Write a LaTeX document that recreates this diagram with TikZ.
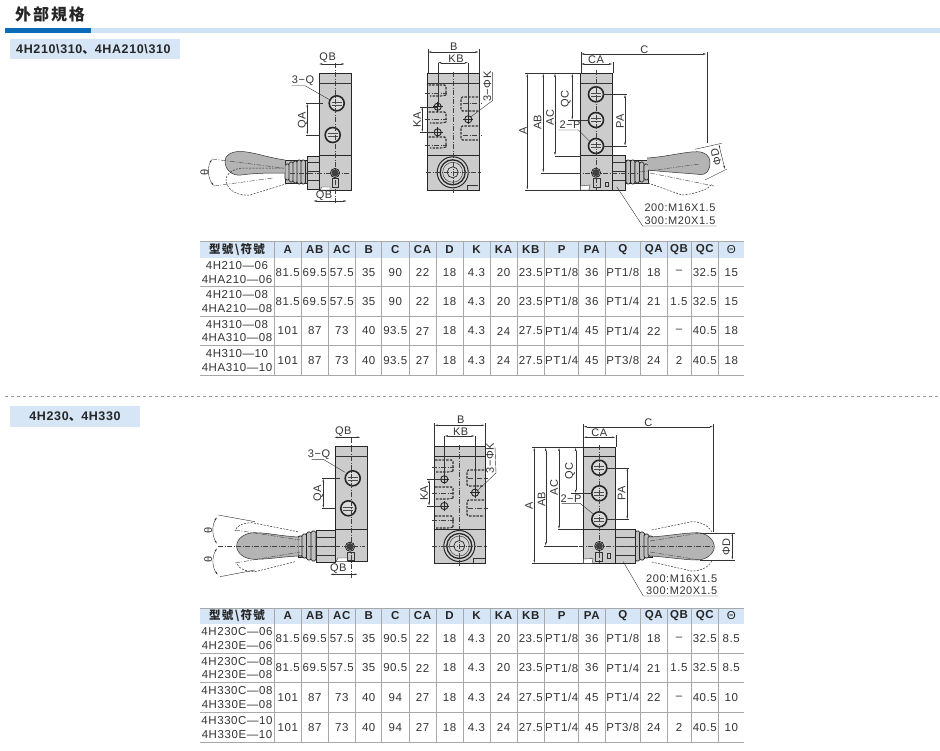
\documentclass[tikz,border=0pt]{standalone}
\usepackage{fontspec}
\setmainfont{Liberation Sans}
\newfontfamily\cjk[LetterSpace=12]{Noto Sans CJK TC}
\newfontfamily\cjkmark{Noto Sans CJK JP}
\newfontfamily\specfont[LetterSpace=5]{Liberation Sans}
\usetikzlibrary{arrows,arrows.meta}
\definecolor{barblue}{HTML}{0A6CB8}
\definecolor{paleblue}{HTML}{CFE3F5}
\definecolor{headblue}{HTML}{D6E6F6}
\definecolor{ruleg}{HTML}{A8A8A8}
\definecolor{bodyg}{HTML}{CCCCCC}
\definecolor{knobg}{HTML}{B4B4B4}
\definecolor{inkg}{HTML}{333333}
\tikzset{
  lbl/.style={font=\specfont\fontsize{11}{13}\selectfont,text=inkg,inner sep=0pt},
  cell/.style={font=\specfont\fontsize{11.5}{13.5}\selectfont,text=inkg,inner sep=0pt,align=center},
  headcell/.style={font=\bfseries\specfont\fontsize{11.5}{12}\selectfont,text=black!85,inner sep=0pt},
  body/.style={draw=black!85,fill=bodyg,line width=0.7pt},
  thin/.style={draw=black!80,line width=0.4pt},
  dim/.style={draw=black!80,line width=0.4pt,{Latex[length=3.5pt,width=1.6pt]}-{Latex[length=3.5pt,width=1.6pt]}},
  centre/.style={draw=black!75,line width=0.4pt,dash pattern=on 5pt off 1.5pt on 1pt off 1.5pt},
  hid/.style={draw=black!80,line width=1.1pt,dash pattern=on 2.5pt off 1.2pt},
  hidthin/.style={draw=black!80,line width=0.5pt,dash pattern=on 2pt off 1.3pt},
  knob/.style={draw=black!80,fill=knobg,line width=0.5pt},
  rib/.style={draw=black!85,fill=knobg!85!white,line width=0.7pt,rounded corners=1.6pt},
}
% port with thread ring
\newcommand{\portring}[2]{
  \fill[bodyg!70!white] (#1,#2) circle[radius=7.5pt];
  \draw[black!85,line width=1.6pt] (#1,#2) circle[radius=7.5pt];
  \draw[black!70,line width=0.6pt] (#1-5,#2-1.5)--(#1+5,#2-1.5) (#1-5,#2+1.5)--(#1+5,#2+1.5);
}
% small pilot port
\newcommand{\pilot}[2]{
  \fill[black!75] (#1,#2) circle[radius=3.6pt];
  \draw[black!90,line width=0.7pt] (#1,#2) circle[radius=4.6pt];
}
% mounting hole
\newcommand{\mounthole}[2]{
  \draw[black!85,line width=0.9pt] (#1,#2) circle[radius=3.6pt];
  \draw[black!85,line width=0.5pt] (#1-5,#2)--(#1+5,#2) (#1,#2-5)--(#1,#2+5);
}
% hex nut of the lever
\newcommand{\hexnut}[2]{
  \draw[black!85,fill=bodyg!85!white,line width=1pt] (#1,#2) circle[radius=15.5pt];
  \draw[black!85,line width=1.3pt] (#1,#2) circle[radius=12.5pt];
  \draw[black!75,line width=0.5pt] (#1,#2) circle[radius=10pt];
  \draw[black!85,line width=0.7pt] (#1,#2) circle[radius=5.5pt];
}
% one table row: name, y, values
\newcommand{\specrow}[3]{
  \foreach \val [count=\i] in {#3} {
    \pgfmathsetmacro\cx{{237,287.8,314.8,341.8,368.7,395.3,422.5,449.5,476.5,503.5,530.8,561.7,591.8,622.8,653.8,679,704.8,731.3}[\i-1]}
    \node[cell] (#1-\i) at (\cx,#2) {\val};
  }
}
% table frame: name, top, head bottom, row rules
\newcommand{\specframe}[4]{
  \fill[headblue] (200,#2) rectangle (744,#3);
  \draw[ruleg,line width=1pt] (200,#2)--(744,#2);
  \foreach \val [count=\i] in {{\cjk 型號\textbackslash 符號},A,AB,AC,B,C,CA,D,K,KA,KB,P,PA,Q,QA,QB,QC,{\mdseries Θ}} {
    \pgfmathsetmacro\cx{{237,287.8,314.8,341.8,368.7,395.3,422.5,449.5,476.5,503.5,530.8,561.7,591.8,622.8,653.8,679,704.8,731.3}[\i-1]}
    \node[headcell] (#1-\i) at (\cx,{(#2+#3)/2}) {\val};
  }
  \foreach \ry in {#4} \draw[ruleg,line width=1pt] (200,\ry)--(744,\ry);
  \pgfmathsetmacro\rbot{max(#4)}
  \foreach \cxx in {274,301.7,328,355.7,381.7,409,436,463,490,517,544.7,578.7,605,640.7,667,691,718.7}
    \draw[ruleg,line width=1pt] (\cxx,#2)--(\cxx,\rbot);
}

\begin{document}
\begin{tikzpicture}[x=1pt,y=-1pt]
\useasboundingbox (0,0) rectangle (940,750);
% heading
\node[inner sep=0pt,anchor=west,text=black!85,font=\cjk\bfseries\fontsize{16}{16}\selectfont] (title) at (15,14.5) {外部規格};
\fill[paleblue] (91,28) rectangle (940,33);
\fill[barblue] (5,28) rectangle (91,33);
\fill[headblue] (10,39) rectangle (180,59);
\node[inner sep=0pt,anchor=west,text=black!85,font=\bfseries\specfont\fontsize{12.5}{14}\selectfont] (subA) at (16,49) {4H210\textbackslash 310{\cjkmark 、}4HA210\textbackslash 310};
\draw[black!40,dashed,line width=0.6pt] (5,396)--(940,396);
\fill[headblue] (10,406) rectangle (140,427);
\node[inner sep=0pt,text=black!85,font=\bfseries\specfont\fontsize{12.5}{14}\selectfont] (subB) at (75,417) {4H230{\cjkmark 、}4H330};

% ---- upper left view
\fill[knobg!85!white,draw=black!85,line width=0.5pt] (285,160) rectangle (307,183);
\foreach \x/\h in {285/8,289/10,293/11,297/12,301/12} \draw[rib] (\x,172-\h)rectangle(\x+4.5,172+\h);
\draw[body] (307,156) rectangle (319.3,189);
\draw[thin] (307,162)--(319.3,162) (307,171)--(319.3,171) (307,180)--(319.3,180);
\draw[knob] (285,160) .. controls (265,157) and (252,151.5) .. (240,151.5) .. controls (230,151.5) and (225,156) .. (225,161) .. controls (225,170) and (232,176) .. (241,175) .. controls (255,173) and (270,173) .. (285,173);
\draw[hidthin] (284,168) -- (244,168) .. controls (234,168) and (225,174) .. (226,181) .. controls (228,192) and (240,196) .. (250,195) -- (289,183);
\draw[body] (319.3,73.3) rectangle (351.7,190);
\draw[thin] (319.3,82.7)--(351.7,82.7);
\draw[black!85,line width=0.7pt] (319.3,155.7)--(351.7,155.7);
\draw[thin,fill=white] (320,190)--(322,187)--(330,187)--(330,190)--cycle;
\draw[thin] (331.7,178) rectangle (338.3,187);
\portring{336.7}{103.3}
\portring{332.7}{135}
\pilot{335}{173}
\draw[centre] (335,63)--(335,203);
\draw[centre] (290,172.7)--(350,172.7);
\draw[centre] (212,159)--(283,168);
\draw[centre] (214,186)--(273,178);
\draw[dim] (318.7,64)--(345,64);
\node[lbl] (qbA) at (327.7,58) {QB};
\draw[dim] (313,201)--(347,201);
\node[lbl] (qbB) at (324,195.6) {QB};
\node[lbl] (qA) at (303,80.7) {3−Q};
\draw[thin] (291.7,85.7)--(305,85.7)--(330,100);
\draw[thin] (306,103.3)--(323,103.3) (306,135)--(320,135);
\draw[dim] (307.3,103.3)--(307.3,135);
\node[lbl,rotate=90] (qaA) at (302.7,120) {QA};
\draw[dim] (212,159) .. controls (207,168) and (208,178) .. (214,186);
\node[lbl,rotate=90] (thetaA) at (204.5,172.7) {θ};

% ---- upper middle view
\draw[body] (427.7,73.3) rectangle (479,190);
\draw[thin] (427.7,82.7)--(479,82.7);
\draw[black!85,line width=0.7pt] (427.7,155)--(479,155);
\foreach \ya in {85,112,137} {
  \draw[hid,rounded corners=1.5pt] (428.5,\ya)--(446,\ya)--(446,\ya+10);
  \draw[hid,rounded corners=1.5pt] (446,\ya+10)--(442,\ya+11)--(430,\ya+11);
}
\foreach \ya in {97,126} {
  \draw[hid,rounded corners=1.5pt] (478,\ya)--(461,\ya)--(461,\ya+14)--(478,\ya+14);
}
\foreach \ya in {92.7,119.3,145} \draw[centre] (425,\ya)--(446.7,\ya);
\foreach \ya in {103,135} \draw[centre] (463,\ya)--(481.7,\ya);
\hexnut{452.7}{172.3}
\draw[thin] (466.7,190)--(466.7,185)--(478,185);
\draw[centre] (452.7,72)--(452.7,193);
\draw[centre] (426,172.3)--(481,172.3);
\draw[thin] (427.7,49)--(427.7,73.3) (479,49)--(479,73.3);
\draw[dim] (427.7,52)--(479,52);
\node[lbl] (bA) at (453.7,46.7) {B};
\draw[thin] (437.7,62.7)--(437.7,106.7) (468.3,62.7)--(468.3,119.3);
\draw[dim] (437.7,62.7)--(468.3,62.7);
\node[lbl] (kbA) at (456,58.3) {KB};
\mounthole{437.7}{106.7}
\mounthole{437.7}{132.3}
\mounthole{468.3}{119.3}
\draw[thin] (420,106.7)--(437,106.7) (420,132.3)--(437,132.3);
\draw[dim] (422.3,106.7)--(422.3,132.3);
\node[lbl,rotate=90] (kaA) at (417,120) {KA};
\draw[thin] (470,117.5)--(492.3,100.7)--(492.3,72);
\node[lbl,rotate=90] (kA) at (487.3,86.7) {3−ΦK};

% ---- upper right view
\fill[knobg!85!white,draw=black!85,line width=0.5pt] (625,160) rectangle (648,183);
\foreach \x/\h in {626/12,630.5/12,635/11,639.5/10,644/8} \draw[rib] (\x,172-\h)rectangle(\x+4.5,172+\h);
\draw[body] (612.7,155) rectangle (625,190);
\draw[thin] (612.7,162)--(625,162) (612.7,171)--(625,171) (612.7,180)--(625,180);
\draw[knob] (647,158) .. controls (665,157) and (685,151.7) .. (697,151.7) .. controls (705,151.7) and (710,156) .. (710,162) .. controls (710,170) and (707,175) .. (700,174.5) .. controls (685,173) and (665,172) .. (648,170);
\draw[hidthin] (648,183) -- (681.7,195) .. controls (695,194) and (708,190) .. (712,184);
\draw[body] (580.7,73.3) rectangle (612.7,190);
\draw[thin] (580.7,82.7)--(612.7,82.7);
\draw[black!85,line width=0.7pt] (580.7,155.7)--(612.7,155.7);
\draw[thin,fill=white] (580.7,186)--(590,185)--(589,190)--(580.7,190)--cycle;
\draw[thin] (593.3,178) rectangle (600,187);
\draw[thin] (605,181.7) rectangle (608.3,185.7);
\portring{596}{94.3}
\portring{596}{120}
\portring{596}{146}
\pilot{596}{172.7}
\draw[centre] (596,70)--(596,190);
\draw[centre] (576,172.7)--(640,172.7);
\draw[centre] (640,172)--(700,164);
\draw[centre] (650,173)--(714,186);
\draw[thin] (580.7,52)--(580.7,73.3) (612.7,62)--(612.7,73.3) (706.7,52)--(706.7,143);
\draw[dim] (580.7,54)--(706.7,54);
\node[lbl] (cA) at (644.3,49.3) {C};
\draw[dim] (580.7,64)--(612.7,64);
\node[lbl] (caA) at (596,59.3) {CA};
\draw[thin] (525,73.3)--(580.7,73.3) (525,190)--(580.7,190) (541,172.7)--(576.7,172.7) (555,155.7)--(580.7,155.7) (568,120)--(589,120);
\draw[dim] (527.3,73.3)--(527.3,190);
\node[lbl,rotate=90] (aA) at (523,130.7) {A};
\draw[dim] (543.3,73.3)--(543.3,172.7);
\node[lbl,rotate=90] (abA) at (537.7,122.3) {AB};
\draw[dim] (555,73.3)--(555,155.7);
\node[lbl,rotate=90] (acA) at (550,117.7) {AC};
\draw[dim] (572.3,73.3)--(572.3,120);
\node[lbl,rotate=90] (qcA) at (565.7,99.3) {QC};
\draw[thin] (603,94.3)--(627,94.3) (603,146)--(627,146);
\draw[dim] (625,94.3)--(625,146);
\node[lbl,rotate=90] (paA) at (620,121) {PA};
\node[lbl] (pA) at (570,125) {2−P};
\draw[thin] (558.3,130)--(578.3,130)--(590,141.7);
\draw[thin] (695,149.3)--(721.7,143.3) (705,180)--(727,169);
\draw[dim] (718.7,144)--(725,169.3);
\node[lbl,rotate=104] (dA) at (716,157) {ΦD};
\node[lbl] (threadA) at (680,208) {200:M16X1.5};
\node[lbl] (threadB) at (680,221) {300:M20X1.5};
\draw[thin] (616.7,186.7)--(642.7,226)--(716.7,226);

% ---- upper table
\specframe{hA}{241}{258}{286.7,316,345.7,375.7}
\specrow{rA}{272.3}{{4H210—06\\4HA210—06},81.5,69.5,57.5,35,90,22,18,4.3,20,23.5,PT1/8,36,PT1/8,18,–,32.5,15}
\specrow{rB}{301.3}{{4H210—08\\4HA210—08},81.5,69.5,57.5,35,90,22,18,4.3,20,23.5,PT1/8,36,PT1/4,21,1.5,32.5,15}
\specrow{rC}{331}{{4H310—08\\4HA310—08},101,87,73,40,93.5,27,18,4.3,24,27.5,PT1/4,45,PT1/4,22,–,40.5,18}
\specrow{rD}{360.7}{{4H310—10\\4HA310—10},101,87,73,40,93.5,27,18,4.3,24,27.5,PT1/4,45,PT3/8,24,2,40.5,18}

% ---- lower left view
\fill[knobg!85!white,draw=black!85,line width=0.5pt] (298,536) rectangle (317,557);
\foreach \x/\h in {298/10,302/12,306.5/14,311/15} \draw[rib] (\x,546-\h)rectangle(\x+5,546+\h);
\draw[body] (316.7,530) rectangle (335,562.7);
\draw[thin] (316.7,537)--(335,537) (316.7,546)--(335,546) (316.7,555)--(335,555);
\draw[knob] (298.3,537) .. controls (280,536) and (268,532.7) .. (255,532.7) .. controls (244,532.7) and (236.7,539) .. (236.7,546) .. controls (236.7,553) and (244,559.3) .. (255,559.3) .. controls (268,559.3) and (280,557) .. (298.3,556);
\draw[hidthin] (298,531.7) -- (252,522.7) .. controls (243,522.7) and (236,526) .. (235,531);
\draw[hidthin] (295,561.7) -- (255,571.7) .. controls (245,571.7) and (238,568) .. (236.7,563);
\draw[body] (335,446.7) rectangle (367.7,561.7);
\draw[thin] (335,455.7)--(367.7,455.7);
\draw[black!85,line width=0.7pt] (335,529.3)--(367.7,529.3);
\draw[thin,fill=white] (336,561.7)--(338,558)--(348,558)--(348,561.7)--cycle;
\draw[thin] (347,552) rectangle (354,560);
\portring{352.7}{478.3}
\portring{348.3}{508.3}
\pilot{350}{546.7}
\draw[centre] (350.7,438)--(350.7,578);
\draw[centre] (218,546)--(365,546);
\draw[centre] (235,530)--(300,540);
\draw[centre] (235,563)--(300,552);
\draw[black!85,line width=0.4pt] (218.3,515)--(255,521.7) (220,576.7)--(255,570);
\draw[dim] (334,437.3)--(360.7,437.3);
\node[lbl] (qbC) at (343.3,431.7) {QB};
\draw[dim] (330,574.3)--(358,574.3);
\node[lbl] (qbD) at (338.3,569) {QB};
\node[lbl] (qC) at (319,454.3) {3−Q};
\draw[thin] (311.7,459.3)--(323.3,459.3)--(345,472.3);
\draw[thin] (322,478.3)--(340,478.3) (322,508.3)--(336,508.3);
\draw[dim] (323.3,478.3)--(323.3,508.3);
\node[lbl,rotate=90] (qaB) at (318.3,493.3) {QA};
\draw[dim] (217,517) .. controls (212,525) and (212,535) .. (217,544);
\draw[dim] (217,548) .. controls (212,557) and (212,567) .. (218,575);
\node[lbl,rotate=90] (thetaB) at (208.3,530.7) {θ};
\node[lbl,rotate=90] (thetaC) at (208.3,559) {θ};

% ---- lower middle view
\draw[body] (434.3,446.7) rectangle (485,563.3);
\draw[black!85,line width=0.7pt] (434.3,456)--(485,456);
\draw[black!85,line width=0.7pt] (434.3,529)--(485,529);
\foreach \ya in {460,487,516} {
  \draw[hid,rounded corners=1.5pt] (435,\ya)--(453,\ya)--(453,\ya+11);
  \draw[hid,rounded corners=1.5pt] (453,\ya+11)--(449,\ya+12)--(436,\ya+12);
}
\foreach \ya in {470,500} {
  \draw[hid,rounded corners=1.5pt] (484,\ya)--(467,\ya)--(467,\ya+16)--(484,\ya+16);
}
\foreach \ya in {467,493,520} \draw[centre] (432,\ya)--(454,\ya);
\foreach \ya in {478,508} \draw[centre] (468,\ya)--(488,\ya);
\hexnut{459.3}{546}
\draw[thin] (473,563.3)--(473,558)--(485,558);
\draw[centre] (459.3,445)--(459.3,566);
\draw[centre] (432,546)--(487,546);
\draw[thin] (434.3,423)--(434.3,446.7) (485,423)--(485,446.7);
\draw[dim] (434.3,425.3)--(485,425.3);
\node[lbl] (bB) at (460.7,420) {B};
\draw[thin] (444.3,436)--(444.3,479.3) (475,436)--(475,492.7);
\draw[dim] (444.3,436)--(475,436);
\node[lbl] (kbB) at (460.7,431.5) {KB};
\mounthole{444.3}{479.3}
\mounthole{444.3}{506}
\mounthole{475}{492.7}
\draw[thin] (427,479.3)--(444,479.3) (427,506)--(444,506);
\draw[dim] (429,479.3)--(429,506);
\node[lbl,rotate=90] (kaB) at (424,493.3) {KA};
\draw[thin] (477,491)--(496,473)--(495,447);
\node[lbl,rotate=90] (kB) at (490,458.3) {3−ΦK};

% ---- lower right view
\fill[knobg!85!white,draw=black!85,line width=0.5pt] (635,536) rectangle (652,557);
\foreach \x/\h in {635/15,639.5/14,644/12,648/10} \draw[rib] (\x,546-\h)rectangle(\x+5,546+\h);
\draw[body] (615.7,529) rectangle (635,563);
\draw[thin] (615.7,537)--(635,537) (615.7,546)--(635,546) (615.7,555)--(635,555);
\draw[knob] (650,537) .. controls (668,536) and (685,532.7) .. (697,532.7) .. controls (707,532.7) and (714.3,540) .. (714.3,546.7) .. controls (714.3,553) and (707,560) .. (697,560) .. controls (685,560) and (668,557) .. (650,556);
\draw[hidthin] (651.7,530) -- (691.7,521.7) .. controls (700,521.7) and (708,525) .. (711.7,531.7);
\draw[hidthin] (651.7,562) -- (691.7,571) .. controls (700,571) and (708,568) .. (711.7,561);
\draw[body] (583.3,447.3) rectangle (615.7,563.3);
\draw[black!85,line width=0.7pt] (583.3,456)--(615.7,456);
\draw[black!85,line width=0.7pt] (583.3,529.3)--(615.7,529.3);
\draw[thin,fill=white] (583.3,559)--(593,558.5)--(592,563.3)--(583.3,563.3)--cycle;
\draw[thin] (595.5,552) rectangle (602.5,561);
\draw[thin] (607,553.5) rectangle (610.5,558.5);
\portring{599.3}{467.7}
\portring{599.3}{493.3}
\portring{599.3}{519.3}
\pilot{599.3}{546}
\draw[centre] (599.3,445)--(599.3,563);
\draw[centre] (579,546)--(712,546);
\draw[centre] (650,541)--(700,533);
\draw[centre] (650,552)--(700,560);
\draw[thin] (583.3,424)--(583.3,447.3) (615.7,435)--(615.7,447.3) (713.3,424)--(713.3,531.7);
\draw[dim] (583.3,426.7)--(713.3,426.7);
\node[lbl] (cB) at (648.3,422.3) {C};
\draw[dim] (583.3,437.3)--(615.7,437.3);
\node[lbl] (caB) at (599.3,432.7) {CA};
\draw[thin] (532,447.3)--(583.3,447.3) (532,563.3)--(583.3,563.3) (544,546)--(578,546) (558,529.3)--(583.3,529.3) (571,493.3)--(592,493.3);
\draw[dim] (534.3,447.3)--(534.3,563.3);
\node[lbl,rotate=90] (aB) at (529,506) {A};
\draw[dim] (545.7,447.3)--(545.7,546);
\node[lbl,rotate=90] (abB) at (541.7,499.3) {AB};
\draw[dim] (559,447.3)--(559,529.3);
\node[lbl,rotate=90] (acB) at (554,487.7) {AC};
\draw[dim] (575.7,447.3)--(575.7,493.3);
\node[lbl,rotate=90] (qcB) at (570,471) {QC};
\draw[thin] (606,467.7)--(629,467.7) (606,519.3)--(629,519.3);
\draw[dim] (627.3,467.7)--(627.3,519.3);
\node[lbl,rotate=90] (paB) at (621.7,493.3) {PA};
\node[lbl] (pB) at (571,498.5) {2−P};
\draw[thin] (561.7,503.3)--(580,503.3)--(593.3,514);
\draw[thin] (700,532.7)--(735,532.7) (700,560)--(735,560);
\draw[dim] (732.3,532.7)--(732.3,560);
\node[lbl,rotate=90] (dB) at (726.3,546.7) {ΦD};
\node[lbl] (threadC) at (681.7,578.3) {200:M16X1.5};
\node[lbl] (threadD) at (681.7,591) {300:M20X1.5};
\draw[thin] (623.3,561.7)--(643.3,596)--(718.3,596);

% ---- lower table
\specframe{hB}{608}{624}{653,682.7,712.7,742.7}
\specrow{rE}{638.5}{{4H230C—06\\4H230E—06},81.5,69.5,57.5,35,90.5,22,18,4.3,20,23.5,PT1/8,36,PT1/8,18,–,32.5,8.5}
\specrow{rF}{668}{{4H230C—08\\4H230E—08},81.5,69.5,57.5,35,90.5,22,18,4.3,20,23.5,PT1/8,36,PT1/4,21,1.5,32.5,8.5}
\specrow{rG}{697.7}{{4H330C—08\\4H330E—08},101,87,73,40,94,27,18,4.3,24,27.5,PT1/4,45,PT1/4,22,–,40.5,10}
\specrow{rH}{727.7}{{4H330C—10\\4H330E—10},101,87,73,40,94,27,18,4.3,24,27.5,PT1/4,45,PT3/8,24,2,40.5,10}
\end{tikzpicture}
\end{document}
